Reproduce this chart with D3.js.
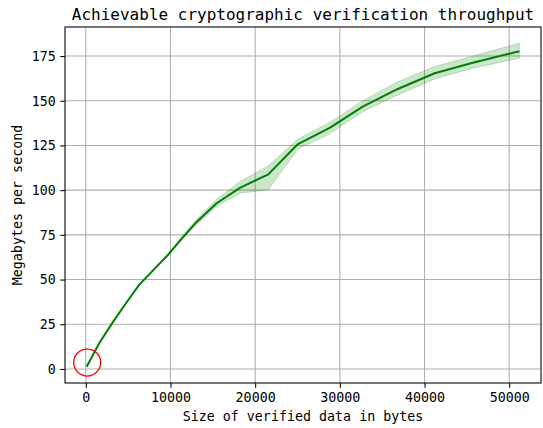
<!DOCTYPE html>
<html>
<head>
<meta charset="utf-8">
<script src="https://cdn.jsdelivr.net/npm/d3@7"></script>
<style>
  body { margin: 0; background: #fff; }
  text { font-family: "DejaVu Sans Mono", monospace; fill: #000; }
</style>
</head>
<body>
<div id="chart"></div>
<script>
// data: bytes -> MB/s, with the confidence band
var sizes = [100, 1600, 3200, 4700, 6300, 8000, 9700, 11300, 12900, 15450, 18200, 21550, 25050, 28800, 32700, 36850, 41200, 45700, 51200];
var mbps  = [1.2, 14.5, 26.2, 36.5, 47.0, 55.4, 63.8, 72.8, 81.3, 92.7, 101.3, 108.8, 125.8, 134.8, 146.7, 156.6, 165.4, 171.3, 177.7];
var lower = [1.2, 14.2, 25.9, 36.1, 46.6, 54.9, 63.1, 71.9, 80.0, 90.8, 98.3, 100.2, 123.0, 131.5, 143.9, 153.2, 162.2, 168.2, 173.8];
var upper = [1.2, 14.8, 26.5, 36.9, 47.4, 55.9, 64.5, 73.7, 82.6, 94.9, 104.8, 113.6, 128.6, 137.9, 150.0, 160.7, 169.1, 175.0, 182.2];
var xTicks = [0, 10000, 20000, 30000, 40000, 50000];
var yTicks = [0, 25, 50, 75, 100, 125, 150, 175];
var marked = [{ x: 165, y: 3.6 }];   // the red circle near the origin

var W = 543, H = 428;
var m = { left: 65, right: 2, top: 27, bottom: 45 };

var svg = d3.select("#chart").append("svg")
  .attr("width", W).attr("height", H);

// matplotlib style 5% margins around the data
var xmin = d3.min(sizes), xmax = d3.max(sizes);
var ymin = d3.min(lower), ymax = d3.max(upper);
var dx = (xmax - xmin) * 0.05, dy = (ymax - ymin) * 0.05;

var x = d3.scaleLinear().domain([xmin - dx, xmax + dx]).range([m.left, W - m.right]);
var y = d3.scaleLinear().domain([ymin - dy, ymax + dy]).range([H - m.bottom, m.top]);

var pts = sizes.map(function (s, i) {
  return { x: s, y: mbps[i], lo: lower[i], hi: upper[i] };
});

// grid
svg.append("g").selectAll("line").data(xTicks).enter().append("line")
  .attr("x1", function (d) { return x(d); }).attr("x2", function (d) { return x(d); })
  .attr("y1", m.top).attr("y2", H - m.bottom)
  .attr("stroke", "#b0b0b0").attr("stroke-width", 1.1);
svg.append("g").selectAll("line").data(yTicks).enter().append("line")
  .attr("y1", function (d) { return y(d); }).attr("y2", function (d) { return y(d); })
  .attr("x1", m.left).attr("x2", W - m.right)
  .attr("stroke", "#b0b0b0").attr("stroke-width", 1.1);

// band
var area = d3.area()
  .x(function (d) { return x(d.x); })
  .y0(function (d) { return y(d.lo); })
  .y1(function (d) { return y(d.hi); });
svg.append("path").datum(pts).attr("d", area)
  .attr("fill", "green").attr("fill-opacity", 0.2)
  .attr("stroke", "green").attr("stroke-opacity", 0.2).attr("stroke-width", 1);

// mean line
var line = d3.line()
  .x(function (d) { return x(d.x); })
  .y(function (d) { return y(d.y); });
svg.append("path").datum(pts).attr("d", line)
  .attr("fill", "none").attr("stroke", "green").attr("stroke-width", 2)
  .attr("stroke-linejoin", "round");

// axes
var xAxis = d3.axisBottom(x).tickValues(xTicks).tickSize(4.7).tickPadding(4.5).tickFormat(d3.format("d"));
var yAxis = d3.axisLeft(y).tickValues(yTicks).tickSize(4.7).tickPadding(4.5).tickFormat(d3.format("d"));

var gx = svg.append("g").attr("transform", "translate(0," + (H - m.bottom) + ")").call(xAxis);
var gy = svg.append("g").attr("transform", "translate(" + m.left + ",0)").call(yAxis);
[gx, gy].forEach(function (g) {
  g.select(".domain").remove();
  g.selectAll(".tick line").attr("stroke", "#000").attr("stroke-width", 1.07);
  g.selectAll(".tick text").style("font-size", "13.33px").style("font-family", "DejaVu Sans Mono");
});

// frame
svg.append("rect")
  .attr("x", m.left).attr("y", m.top)
  .attr("width", W - m.right - m.left).attr("height", H - m.bottom - m.top)
  .attr("fill", "none").attr("stroke", "#000").attr("stroke-width", 1.07);

// red circle
svg.append("g").selectAll("circle").data(marked).enter().append("circle")
  .attr("cx", function (d) { return x(d.x); })
  .attr("cy", function (d) { return y(d.y); })
  .attr("r", 13.5)
  .attr("fill", "none").attr("stroke", "red").attr("stroke-width", 1.3);

// labels
svg.append("text")
  .attr("x", (m.left + W - m.right) / 2).attr("y", 19.5)
  .attr("text-anchor", "middle").style("font-size", "16px")
  .text("Achievable cryptographic verification throughput");

svg.append("text")
  .attr("x", (m.left + W - m.right) / 2).attr("y", 421)
  .attr("text-anchor", "middle").style("font-size", "13.33px")
  .text("Size of verified data in bytes");

svg.append("text")
  .attr("transform", "translate(22," + ((m.top + H - m.bottom) / 2) + ") rotate(-90)")
  .attr("text-anchor", "middle").style("font-size", "13.33px")
  .text("Megabytes per second");
</script>
</body>
</html>
